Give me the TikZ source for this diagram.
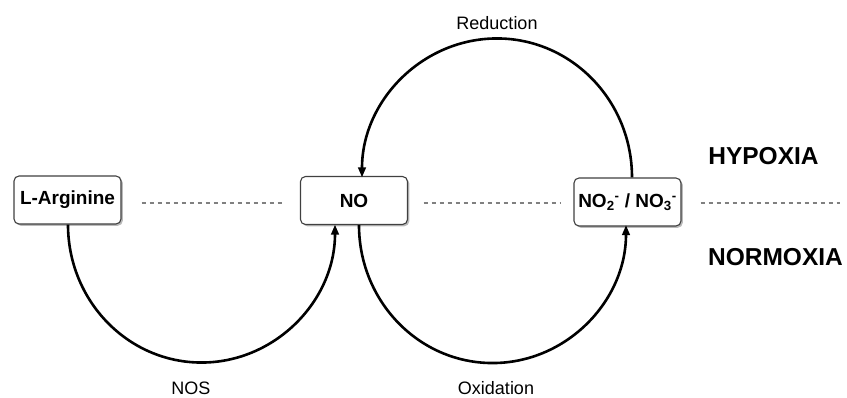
\documentclass[tikz,border=0pt]{standalone}
\usepackage{fontspec}
\setmainfont{Liberation Sans}
\usetikzlibrary{arrows.meta,shadows,calc}
\begin{document}
\begin{tikzpicture}[x=1pt,y=-1pt,
  box/.style={draw=black!75, line width=1.1pt, rounded corners=5pt, fill=white,
    minimum width=107pt, minimum height=48pt, inner sep=0pt,
    font=\fontsize{19}{21}\selectfont\bfseries,
    drop shadow={shadow xshift=1.8pt, shadow yshift=-1.8pt, fill=black!45, opacity=0.6}},
  conn/.style={line width=2.6pt, -{Triangle[length=10pt,width=7.5pt]}},
  sep/.style={draw=black!50, line width=1.2pt, dash pattern=on 4pt off 4pt},
  lbl/.style={font=\fontsize{18}{20}\selectfont, inner sep=0pt},
  zone/.style={font=\fontsize{24.5}{26}\selectfont\bfseries, inner sep=0pt}]
\useasboundingbox (0,0) rectangle (847,398);

\node[box] (larg) at (67.5,200) {L-Arginine};
\node[box] (no) at (354,200.5) {NO};
\node[box] (nox) at (627.5,202) {NO\textsubscript{2}\textsuperscript{-} / NO\textsubscript{3}\textsuperscript{-}};

\coordinate (s1) at ([xshift=0.5pt]larg.south);
\coordinate (e1) at ([xshift=-19pt]no.south);
\coordinate (s2) at ([xshift=5pt]no.south);
\coordinate (e2) at ([xshift=-1.5pt]nox.south);
\coordinate (s3) at ([xshift=4.5pt]nox.north);
\coordinate (e3) at ([xshift=8pt]no.north);
\coordinate (rend) at (840,203);

% separators
\draw[sep] ([xshift=20pt,yshift=-3pt]larg.east) -- ([xshift=-18pt,yshift=-2.5pt]no.west);
\draw[sep] ([xshift=15.5pt,yshift=-2.5pt]no.east) -- ([xshift=-12pt,yshift=-1pt]nox.west);
\draw[sep] ([xshift=19pt,yshift=-1pt]nox.east) -- (rend);

% arcs
\draw[conn] let \p1=(s1), \p2=(e1), \n1={(\x2-\x1)/2} in
  (s1) arc[start angle=180, end angle=360, x radius=\n1, y radius=138pt];
\draw[conn] let \p1=(s2), \p2=(e2), \n1={(\x2-\x1)/2} in
  (s2) arc[start angle=180, end angle=360, x radius=\n1, y radius=138pt];
\draw[conn] let \p1=(s3), \p2=(e3), \n1={(\x1-\x2)/2} in
  (s3) arc[start angle=0, end angle=180, x radius=\n1, y radius=139pt];

% labels
\node[lbl] (lred) at (497,23) {Reduction};
\node[lbl] (lnos) at (191,388) {NOS};
\node[lbl] (lox) at (496,388) {Oxidation};
\node[zone] (hyp) at (763.5,156.5) {HYPOXIA};
\node[zone] (norm) at (775.5,257) {NORMOXIA};
\end{tikzpicture}
\end{document}
